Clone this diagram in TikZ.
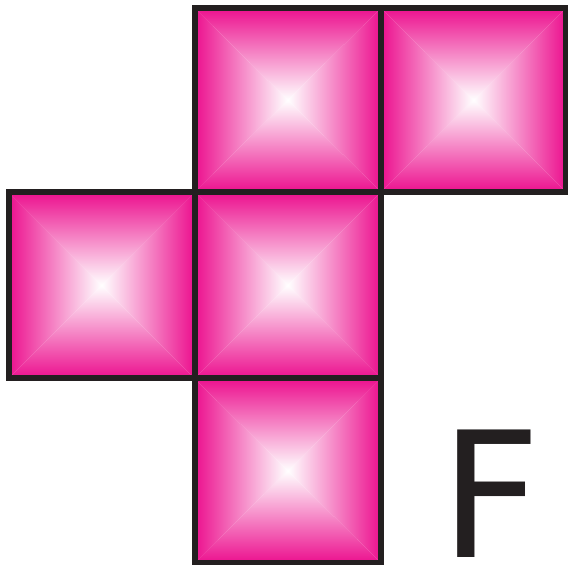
\documentclass[tikz,border=0pt]{standalone}
\usepackage{fontspec}
\newfontfamily\letterfont{DejaVu Sans}
\definecolor{mag}{RGB}{236,16,142}
\definecolor{edge}{RGB}{35,31,32}
\newcommand\pyrsq[4]{%
  \coordinate (c) at ({(#1+#3)/2},{(#2+#4)/2});
  \shade[top color=mag, bottom color=white] (#1,#4) -- (#3,#4) -- (c) -- cycle;
  \shade[bottom color=mag, top color=white] (#1,#2) -- (#3,#2) -- (c) -- cycle;
  \shade[left color=mag, right color=white] (#1,#2) -- (#1,#4) -- (c) -- cycle;
  \shade[right color=mag, left color=white] (#3,#2) -- (#3,#4) -- (c) -- cycle;
}
\tikzset{cellborder/.style={draw=edge, line width=6pt, line join=miter}}
\begin{document}
\begin{tikzpicture}[x=1pt,y=1pt]
\useasboundingbox (0,0) rectangle (568,565);
% cells (tikz y = 565 - image y)
\pyrsq{194.5}{373}{381}{557}
\pyrsq{381}{373}{566}{557}
\pyrsq{8.5}{186.5}{194.5}{373}
\pyrsq{194.5}{186.5}{381}{373}
\pyrsq{194.5}{2}{381}{186.5}
\draw[cellborder] (194.5,373) rectangle (381,557);
\draw[cellborder] (381,373) rectangle (566,557);
\draw[cellborder] (8.5,186.5) rectangle (194.5,373);
\draw[cellborder] (194.5,186.5) rectangle (381,373);
\draw[cellborder] (194.5,2) rectangle (381,186.5);
\node[anchor=base west, inner sep=0pt, text=edge] (F) at (440,7) {\letterfont\fontsize{175}{175}\selectfont F};
\end{tikzpicture}
\end{document}
